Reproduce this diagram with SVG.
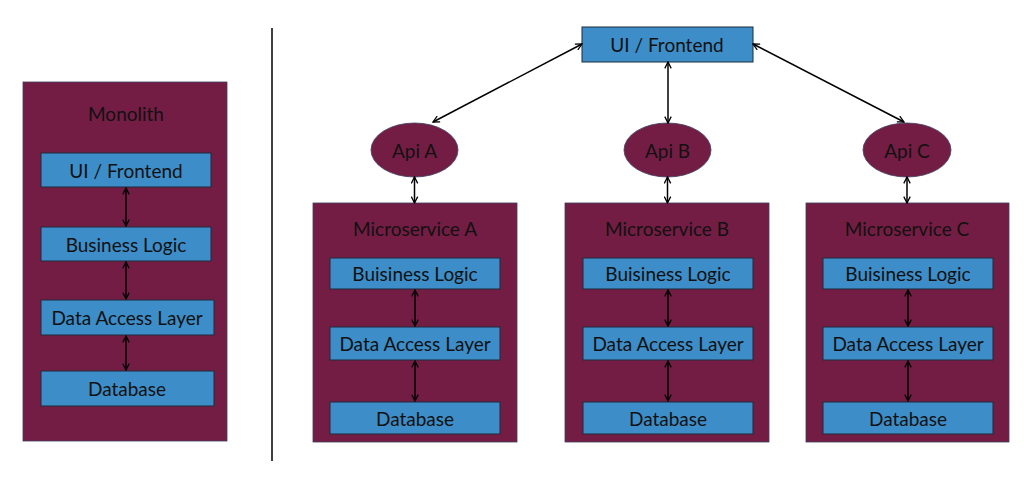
<svg xmlns="http://www.w3.org/2000/svg" width="1024" height="489" viewBox="0 0 1024 489">
<defs>
<marker id="ah" viewBox="0 0 10 10" refX="9" refY="5" markerWidth="8" markerHeight="8" orient="auto-start-reverse" markerUnits="userSpaceOnUse">
<path d="M1,1 L9,5 L1,9" fill="none" stroke="#000" stroke-width="1.6"/>
</marker>
<style>
.c{fill:#741D44;stroke:#3F3F5F;stroke-width:0.8}
.b{fill:#3C8DC8;stroke:#1F2A3A;stroke-width:1}
.t{font-family:Lato,"Open Sans",sans-serif;font-size:19px;fill:#111;text-anchor:middle;dominant-baseline:central}
.a{stroke:#000;stroke-width:1.5;fill:none;marker-start:url(#ah);marker-end:url(#ah)}
</style>
</defs>
<rect width="1024" height="489" fill="#fff"/>
<line x1="272" y1="28" x2="272" y2="461" stroke="#000" stroke-width="1.5"/>
<g id="monolith">
<rect class="c" x="23" y="82" width="204" height="359"/>
<text class="t" x="126" y="113">Monolith</text>
</g>
<g id="m-ui"><rect class="b" x="41" y="153" width="170" height="34"/><text class="t" x="126" y="170">UI / Frontend</text></g>
<g id="m-bl"><rect class="b" x="41" y="227" width="170" height="34"/><text class="t" x="126" y="244">Business Logic</text></g>
<g id="m-dal"><rect class="b" x="41" y="300" width="173" height="35"/><text class="t" x="127" y="317.5">Data Access Layer</text></g>
<g id="m-db"><rect class="b" x="41" y="371" width="173" height="35"/><text class="t" x="127" y="388.5">Database</text></g>

<g id="ui"><rect class="b" x="582" y="27" width="171" height="35"/><text class="t" x="667" y="44.5">UI / Frontend</text></g>
<g id="apiA"><ellipse class="c" cx="414.5" cy="150" rx="43.5" ry="27"/><text class="t" x="414.5" y="150">Api A</text></g>
<g id="apiB"><ellipse class="c" cx="667.5" cy="150" rx="43.5" ry="27"/><text class="t" x="667.5" y="150">Api B</text></g>
<g id="apiC"><ellipse class="c" cx="907" cy="150" rx="44" ry="27"/><text class="t" x="907" y="150">Api C</text></g>

<g id="msA">
<rect class="c" x="313" y="203" width="204" height="239"/>
<text class="t" x="415" y="228">Microservice A</text>
</g>
<g id="msA-bl"><rect class="b" x="330" y="258" width="170" height="31"/><text class="t" x="415" y="273.5">Buisiness Logic</text></g>
<g id="msA-dal"><rect class="b" x="330" y="327" width="170" height="33"/><text class="t" x="415" y="343.5">Data Access Layer</text></g>
<g id="msA-db"><rect class="b" x="330" y="402" width="170" height="32"/><text class="t" x="415" y="418">Database</text></g>

<g id="msB">
<rect class="c" x="565" y="203" width="204" height="239"/>
<text class="t" x="667" y="228">Microservice B</text>
</g>
<g id="msB-bl"><rect class="b" x="583" y="258" width="170" height="31"/><text class="t" x="668" y="273.5">Buisiness Logic</text></g>
<g id="msB-dal"><rect class="b" x="583" y="327" width="170" height="33"/><text class="t" x="668" y="343.5">Data Access Layer</text></g>
<g id="msB-db"><rect class="b" x="583" y="402" width="170" height="32"/><text class="t" x="668" y="418">Database</text></g>

<g id="msC">
<rect class="c" x="806" y="203" width="203" height="239"/>
<text class="t" x="907" y="228">Microservice C</text>
</g>
<g id="msC-bl"><rect class="b" x="823" y="258" width="170" height="31"/><text class="t" x="908" y="273.5">Buisiness Logic</text></g>
<g id="msC-dal"><rect class="b" x="823" y="327" width="170" height="33"/><text class="t" x="908" y="343.5">Data Access Layer</text></g>
<g id="msC-db"><rect class="b" x="823" y="402" width="170" height="32"/><text class="t" x="908" y="418">Database</text></g>

<g id="connectors">
<line class="a" x1="126" y1="188" x2="126" y2="226"/>
<line class="a" x1="126" y1="262" x2="126" y2="299"/>
<line class="a" x1="126" y1="336" x2="126" y2="370"/>
<line class="a" x1="582" y1="44" x2="433" y2="122"/>
<line class="a" x1="668" y1="62" x2="668" y2="123"/>
<line class="a" x1="753" y1="44" x2="904" y2="122"/>
<line class="a" x1="414.5" y1="177" x2="414.5" y2="203"/>
<line class="a" x1="667.5" y1="177" x2="667.5" y2="203"/>
<line class="a" x1="907" y1="177" x2="907" y2="203"/>
<line class="a" x1="415" y1="290" x2="415" y2="326"/>
<line class="a" x1="415" y1="361" x2="415" y2="401"/>
<line class="a" x1="668" y1="290" x2="668" y2="326"/>
<line class="a" x1="668" y1="361" x2="668" y2="401"/>
<line class="a" x1="908" y1="290" x2="908" y2="326"/>
<line class="a" x1="908" y1="361" x2="908" y2="401"/>
</g>
</svg>
